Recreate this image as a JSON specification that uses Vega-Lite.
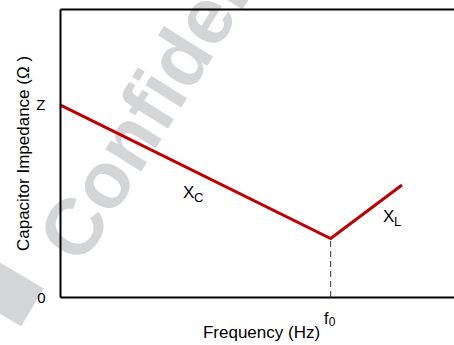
{
  "$schema": "https://vega.github.io/schema/vega-lite/v6.json",
  "width": 394,
  "height": 288,
  "autosize": {"type": "none"},
  "padding": {"left": 60, "top": 9, "right": 0, "bottom": 48},
  "config": {"view": {"stroke": null}, "font": "Liberation Sans"},
  "datasets": {
    "curve": [{"f": 0, "z": 66.7}, {"f": 68.7, "z": 20.3}, {"f": 86.8, "z": 38.9}],
    "marker": [{"f": 68.7, "z0": 0, "z1": 20.3}],
    "labels": [
      {"f": 31.2, "z": 34.4, "main": "X", "sub": "C"},
      {"f": 82.0, "z": 26.0, "main": "X", "sub": "L"}
    ],
    "fsub": [{"f": 68.7, "z": 0, "sub": "0"}],
    "watermark": [{"f": 5.5, "z": 10.5, "text": "Confidential"}],
    "wmbar": [{"f": -22, "z": 8.6, "f2": -7.0, "z2": -3.6}]
  },
  "resolve": {"axis": {"x": "independent", "y": "independent"}},
  "layer": [
    {
      "data": {"name": "watermark"},
      "mark": {"type": "text", "align": "left", "baseline": "alphabetic", "angle": -58, "fontSize": 80, "fontWeight": "bold", "color": "#d4d5d7"},
      "encoding": {
        "x": {"field": "f", "type": "quantitative", "scale": {"domain": [0, 100], "nice": false, "zero": false}, "axis": null},
        "y": {"field": "z", "type": "quantitative", "scale": {"domain": [0, 100], "nice": false, "zero": false}, "axis": null},
        "text": {"field": "text"}
      }
    },
    {
      "data": {"name": "wmbar"},
      "mark": {"type": "rule", "color": "#d4d5d7", "strokeWidth": 44, "strokeCap": "butt"},
      "encoding": {
        "x": {"field": "f", "type": "quantitative", "axis": null},
        "y": {"field": "z", "type": "quantitative", "axis": null},
        "x2": {"field": "f2"},
        "y2": {"field": "z2"}
      }
    },
    {
      "data": {"name": "marker"},
      "mark": {"type": "rule", "color": "#333333", "strokeWidth": 1, "strokeDash": [6, 4]},
      "encoding": {
        "x": {"field": "f", "type": "quantitative", "axis": {"orient": "top", "labels": false, "ticks": false, "title": null, "grid": false, "domainWidth": 2, "domainColor": "black", "zindex": 1}},
        "y": {"field": "z0", "type": "quantitative", "axis": null},
        "y2": {"field": "z1"}
      }
    },
    {
      "data": {"name": "curve"},
      "mark": {"type": "line", "color": "#c00000", "strokeWidth": 3},
      "encoding": {
        "x": {"field": "f", "type": "quantitative", "axis": {
          "orient": "bottom", "values": [68.7], "labelExpr": "'f'", "ticks": false, "grid": false,
          "domainWidth": 2, "domainColor": "black", "labelFontSize": 16, "labelColor": "black",
          "labelPadding": 13, "labelOffset": -5, "labelFlush": false,
          "title": "Frequency (Hz)", "titleFontSize": 17, "titleFontWeight": "normal", "titleColor": "black",
          "titleBaseline": "alphabetic", "titleY": 40, "titleX": 201, "titleAlign": "center", "zindex": 1}},
        "y": {"field": "z", "type": "quantitative", "axis": {
          "orient": "left", "values": [0, 66.7], "labelExpr": "datum.value == 0 ? '0' : 'Z'", "ticks": false, "grid": false,
          "domainWidth": 2, "domainColor": "black", "labelFontSize": 15, "labelColor": "black", "labelPadding": 15,
          "title": "Capacitor Impedance (Ω )", "titleFontSize": 17, "titleFontWeight": "normal", "titleColor": "black",
          "titleX": -32, "titleY": 144, "titleAlign": "center", "titleBaseline": "alphabetic", "titleAngle": -90, "zindex": 1}}
      }
    },
    {
      "data": {"name": "labels"},
      "mark": {"type": "text", "align": "left", "baseline": "alphabetic", "fontSize": 17, "color": "black"},
      "encoding": {
        "x": {"field": "f", "type": "quantitative", "axis": null},
        "y": {"field": "z", "type": "quantitative", "axis": null},
        "text": {"field": "main"}
      }
    },
    {
      "data": {"name": "labels"},
      "mark": {"type": "text", "align": "left", "baseline": "alphabetic", "fontSize": 13, "color": "black", "dx": 11, "dy": 4},
      "encoding": {
        "x": {"field": "f", "type": "quantitative", "axis": null},
        "y": {"field": "z", "type": "quantitative", "axis": null},
        "text": {"field": "sub"}
      }
    },
    {
      "data": {"name": "fsub"},
      "mark": {"type": "text", "align": "left", "baseline": "alphabetic", "fontSize": 12, "color": "black", "dx": -2, "dy": 29},
      "encoding": {
        "x": {"field": "f", "type": "quantitative", "axis": null},
        "y": {"field": "z", "type": "quantitative", "axis": null},
        "text": {"field": "sub"}
      }
    }
  ]
}
